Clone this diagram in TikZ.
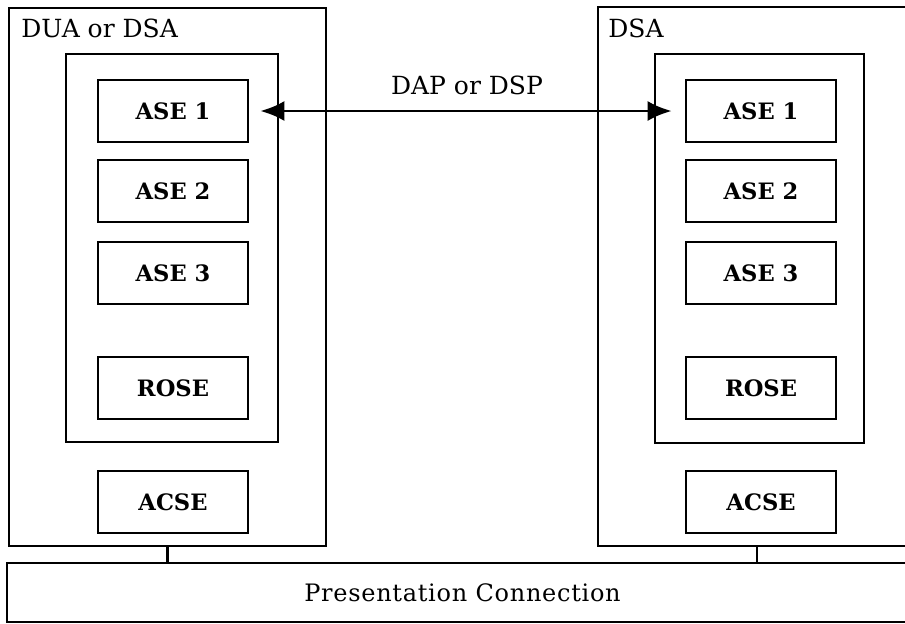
\documentclass[tikz,border=0pt]{standalone}
\usepackage{fontspec}
\setmainfont{DejaVu Serif}
\newfontfamily\spacedfont[LetterSpace=3]{DejaVu Serif}
\usetikzlibrary{arrows.meta}

\begin{document}
\begin{tikzpicture}[x=0.5pt,y=-0.5pt,
    frame/.style={draw,line width=1.35pt,inner sep=0pt},
    ase/.style={frame,minimum width=75pt,minimum height=31pt,font=\fontsize{11.3}{13}\selectfont\bfseries},
    tag/.style={inner sep=0pt,font=\fontsize{12.5}{15}\selectfont}]
  \useasboundingbox (0,0) rectangle (905,623);
  \clip (0,0) rectangle (905,623);

  % DUA or DSA side
  \node[frame,minimum width=158.5pt,minimum height=269pt] (lout) at (167.5,277) {};
  \node[tag,anchor=base west] (llab) at (21,37) {DUA or DSA};
  \node[frame,minimum width=106pt,minimum height=194pt] (lin) at (172,248) {};
  \node[ase] (lase1) at (173,111) {ASE 1};
  \node[ase] (lase2) at (173,191) {ASE 2};
  \node[ase] (lase3) at (173,273) {ASE 3};
  \node[ase] (lrose) at (173,388) {ROSE};
  \node[ase] (lacse) at (173,502) {ACSE};

  % DSA side
  \node[frame,minimum width=159pt,minimum height=269.5pt] (rout) at (757,276.5) {};
  \node[tag,anchor=base west] (rlab) at (608,37) {DSA};
  \node[frame,minimum width=104.5pt,minimum height=194.5pt] (rin) at (759.5,248.5) {};
  \node[ase] (rase1) at (761,111) {ASE 1};
  \node[ase] (rase2) at (761,191) {ASE 2};
  \node[ase] (rase3) at (761,273) {ASE 3};
  \node[ase] (rrose) at (761,388) {ROSE};
  \node[ase] (racse) at (761,502) {ACSE};

  % presentation layer
  \node[frame,minimum width=455.5pt,minimum height=29.5pt,font=\fontsize{12}{14}\spacedfont] (pc) at (462.5,592.5) {Presentation Connection};
  \draw[line width=1.35pt] (lout.south) -- (lout.south |- pc.north);
  \draw[line width=1.35pt] (rout.south) -- (rout.south |- pc.north);

  % protocol between the two ASE 1
  \draw[line width=1.35pt,{Latex[length=12pt,width=10pt]}-{Latex[length=12pt,width=10pt]},
    shorten <=5.5pt,shorten >=6.5pt]
    (lase1.east) -- node[tag,above=7.5pt] (dap) {DAP or DSP} (rase1.west);
\end{tikzpicture}
\end{document}
